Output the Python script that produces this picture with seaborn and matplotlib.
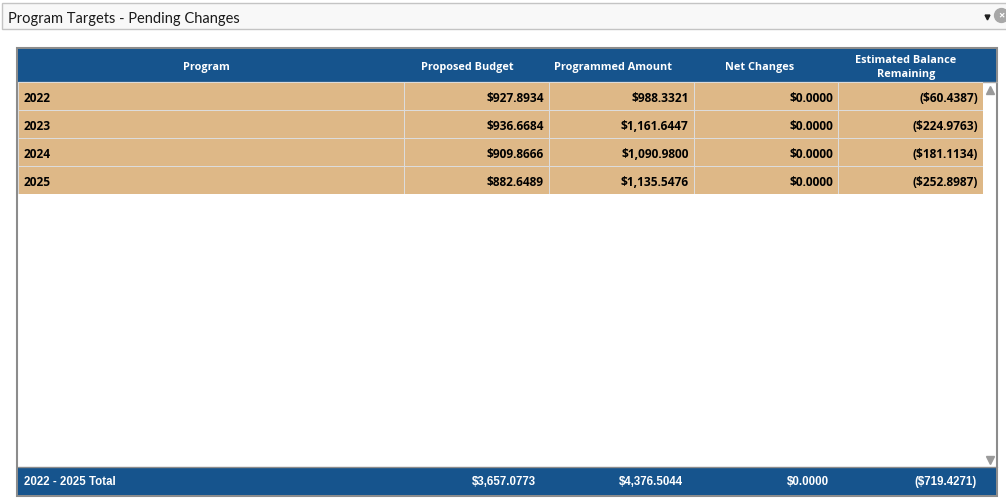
import matplotlib
matplotlib.use('Agg')
import matplotlib.pyplot as plt
import seaborn as sns
import pandas as pd
from matplotlib.colors import ListedColormap
from matplotlib.patches import Rectangle

# data
programs = ['2022', '2023', '2024', '2025']
columns = ['Proposed Budget', 'Programmed Amount', 'Net Changes', 'Estimated Balance\nRemaining']
proposed_budget = [927.8934, 936.6684, 909.8666, 882.6489]
programmed_amount = [988.3321, 1161.6447, 1090.9800, 1135.5476]
net_changes = [0.0, 0.0, 0.0, 0.0]
balance_remaining = [-60.4387, -224.9763, -181.1134, -252.8987]
total_label = '2022 - 2025 Total'

df = pd.DataFrame({columns[0]: proposed_budget, columns[1]: programmed_amount,
                   columns[2]: net_changes, columns[3]: balance_remaining}, index=programs)


def money(v):
    s = '${:,.4f}'.format(abs(v))
    return '(' + s + ')' if v < 0 else s


W, H = 1006, 502
BLUE = '#16548D'
TAN = '#DEB887'
GRID = '#DCDCDC'

sns.set_theme(style='white')
plt.rcParams['font.family'] = ['Open Sans', 'DejaVu Sans']

fig = plt.figure(figsize=(W / 100, H / 100), dpi=100, facecolor='white')


def px_axes(x0, y0, x1, y1, z=1):
    a = fig.add_axes([x0 / W, 1 - y1 / H, (x1 - x0) / W, (y1 - y0) / H], zorder=z)
    return a


# background / decoration axes in pixel coords
bg = px_axes(0, 0, W, H, 0)
bg.set_xlim(0, W)
bg.set_ylim(H, 0)
bg.axis('off')

# title box
bg.add_patch(Rectangle((2.5, 3.5), W + 5, 26, facecolor='#F8F8F8', edgecolor='#C4C4C4', lw=1))
bg.text(8, 19, 'Program Targets - Pending Changes', fontsize=10.5, color='#1A1A1A', va='center', ha='left',
        family=['Lato', 'DejaVu Sans'])
bg.plot([987], [18], marker='v', color='#202020', markersize=3.5)
bg.plot([1001], [16], marker='o', color='#A8A8A8', markersize=10)
bg.text(1001, 16, '×', color='white', fontsize=8, ha='center', va='center', fontweight='bold')

# outer table frame, header and footer bands
bg.add_patch(Rectangle((17.5, 48.5), 980, 448, facecolor='white', edgecolor='#8C8C8C', lw=1.5))
bg.add_patch(Rectangle((18.5, 49.5), 978, 33, facecolor=BLUE, edgecolor='none'))
bg.plot([18.5, 997], [82.5, 82.5], color='#A8A8A8', lw=1)
bg.add_patch(Rectangle((18.5, 468), 978, 28, facecolor=BLUE, edgecolor='none'))
bg.plot([18.5, 997], [468, 468], color='#8C8C8C', lw=1)

# scrollbar arrows
bg.plot([990], [91], marker='^', color='#9A9A9A', markersize=6)
bg.plot([990], [461], marker='v', color='#9A9A9A', markersize=6)

# header labels
header_x = [206, 467, 613, 760, 906]
for x, lab in zip(header_x, ['Program'] + columns):
    bg.text(x, 67.5, lab, color='white', fontsize=7.8, fontweight='bold', ha='center', va='center',
            linespacing=1.35)

# body: program column
row_top, row_bot = 83, 195
ax_p = px_axes(18, row_top, 404.5, row_bot, 2)
prog_df = pd.DataFrame({'Program': [0] * len(programs)}, index=programs)
sns.heatmap(prog_df, cmap=ListedColormap([TAN]), cbar=False, linewidths=0.6, linecolor=GRID,
            xticklabels=False, yticklabels=False, ax=ax_p)
for i, p in enumerate(programs):
    ax_p.text(6 / 386, i + 0.55, p, fontsize=8.6, fontweight='bold', color='black', ha='left', va='center')
ax_p.set_xlabel('')
ax_p.set_ylabel('')

# body: numeric columns
ax_v = px_axes(404, row_top, 983, row_bot, 2)
sns.heatmap(df * 0, cmap=ListedColormap([TAN]), cbar=False, linewidths=0.6, linecolor=GRID,
            xticklabels=False, yticklabels=False, ax=ax_v)
pad = 5 / 145
for j, col in enumerate(df.columns):
    for i, v in enumerate(df[col]):
        ax_v.text(j + 1 - pad, i + 0.55, money(v), fontsize=8.6, fontweight='bold', color='black',
                  ha='right', va='center')
ax_v.set_xlabel('')
ax_v.set_ylabel('')

# footer totals
foot_fam = ['Liberation Sans', 'DejaVu Sans']
foot_x = [536, 683, 829, 977]
bg.text(24, 482.5, total_label, color='white', fontsize=8.3, fontweight='bold', ha='left', va='center',
        family=foot_fam)
for x, col in zip(foot_x, df.columns):
    bg.text(x, 482.5, money(df[col].sum()), color='white', fontsize=8.3, fontweight='bold',
            ha='right', va='center', family=foot_fam)

plt.savefig('out.png', dpi=100, facecolor='white')
